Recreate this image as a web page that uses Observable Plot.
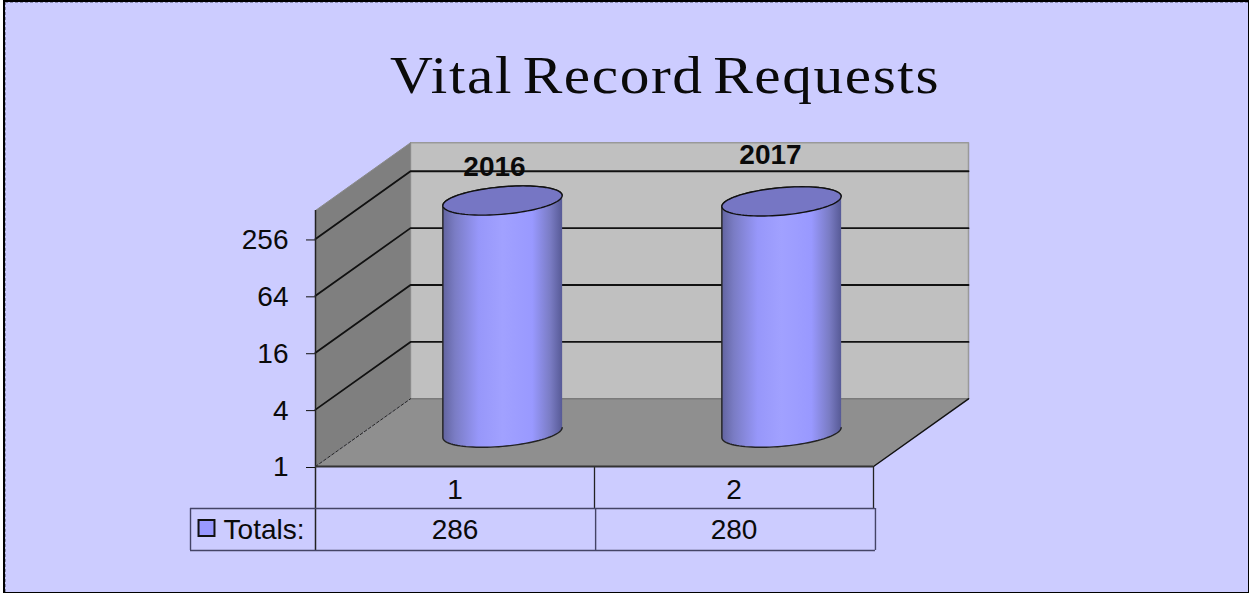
<!DOCTYPE html>
<html>
<head>
<meta charset="utf-8">
<script src="https://cdn.jsdelivr.net/npm/d3@7"></script>
<script src="https://cdn.jsdelivr.net/npm/@observablehq/plot@0.6"></script>
<style>
  html, body { margin: 0; padding: 0; background: #fff; }
  #page { position: relative; width: 1250px; height: 593px; overflow: hidden; }
  #frame { position: absolute; left: 3px; top: 0; width: 1246px; height: 593px; box-sizing: border-box;
    background: #ccccff; border: solid #000; border-width: 2px 1px 1px 2px; }
  #frame::after { content: ""; position: absolute; inset: 0; border: dashed #8a8ab0; border-width: 1px 0 0 1px; }
  h1 { position: relative; margin: 0; height: 130px; box-sizing: border-box; padding-top: 49px; padding-left: 390px;
    font: 400 53px/1 "Liberation Serif", serif; letter-spacing: 1.4px; word-spacing: -6px; color: #0a0a0a; white-space: nowrap; }
  h1 span { display: inline-block; transform: scaleX(1.12); transform-origin: 0 50%; }
  #chart { position: relative; }
  svg { display: block; overflow: visible; }
</style>
</head>
<body>
<div id="page">
  <div id="frame"></div>
  <h1><span>Vital Record Requests</span></h1>
  <div id="chart"></div>
</div>
<script>
const categories = [1, 2];
const years = ["2016", "2017"];
const totals = [286, 280];
const tickValues = [1, 4, 16, 64, 256];
const axisMax = 512;
const seriesName = "Totals:";

// Oblique projection of the chart's box: category, value, depth (0 front, 1 back)
const depthX = 0.3405, depthY = 1.19;
const P = (c, v, d = 0) => ({x: c + d * depthX, y: v * 4 ** (d * depthY)});
const maxC = categories.length;
const box = pts => pts.map(([c, v, d]) => P(c, v, d));
const below = levels => 4 ** -levels; // table rows hang below the axis on the same log scale

const backWall = box([[0, 1, 1], [maxC, 1, 1], [maxC, axisMax, 1], [0, axisMax, 1]]);
const leftWall = box([[0, 1, 0], [0, 1, 1], [0, axisMax, 1], [0, axisMax, 0]]);
const floor = box([[0, 1, 0], [maxC, 1, 0], [maxC, 1, 1], [0, 1, 1]]);
const gridlines = tickValues.slice(1).flatMap(v =>
  box([[0, v, 0], [0, v, 1], [maxC, v, 1]]).map(p => ({...p, v})));

// Cylinders
const radiusC = 0.2007, radiusD = 0.216;
const t0 = Math.atan2(radiusD * depthX, radiusC);
const ringPoint = (i, v, t) => P(i + 0.5 + radiusC * Math.cos(t), v, 0.5 + radiusD * Math.sin(t));
const arc = (i, v, from, to, n = 48) => d3.range(n + 1).map(k => ringPoint(i, v, from + (to - from) * k / n));
const bodies = totals.flatMap((v, i) => [
  ...arc(i, 1, t0, t0 - Math.PI),
  ...arc(i, v, t0 - Math.PI, t0 - 2 * Math.PI)
].map(p => ({...p, i})));
const tops = totals.flatMap((v, i) => arc(i, v, 0, 2 * Math.PI, 96).map(p => ({...p, i})));

const row1 = below(0.738), row2 = below(1.476);
const rowEdges2 = [0, 1.004, 2.007];
const tableLeft = -0.448;
const tickColor = "#111";

const gradient = () => {
  const defs = d3.create("svg:defs");
  const g = defs.append("linearGradient").attr("id", "cyl").attr("x1", 0).attr("x2", 1).attr("y1", 0).attr("y2", 0);
  [[0, "#62649f"], [0.1, "#7a7cc4"], [0.3, "#9797fa"], [0.5, "#a1a1ff"], [0.75, "#9999ff"], [0.9, "#7a7cc4"], [1, "#575a96"]]
    .forEach(([o, c]) => g.append("stop").attr("offset", o).attr("stop-color", c));
  return defs.node();
};

const plot = Plot.plot({
  width: 1250, height: 463,
  marginLeft: 315, marginRight: 377, marginTop: 80, marginBottom: 127,
  style: {background: "transparent", fontFamily: "'Liberation Sans', Arial, sans-serif", overflow: "visible"},
  x: {domain: [0, maxC], axis: null},
  y: {type: "log", base: 4, domain: [1, axisMax], axis: null},
  marks: [
    gradient,
    Plot.line(backWall.concat(backWall[0]), {x: "x", y: "y", fill: "#c0c0c0", stroke: "#999", strokeWidth: 1.5}),
    Plot.line(leftWall, {x: "x", y: "y", fill: "#7f7f7f", stroke: "none"}),
    Plot.line(floor, {x: "x", y: "y", fill: "#8f8f8f", stroke: "none"}),
    Plot.line(box([[0, 1, 1], [maxC, 1, 1]]), {x: "x", y: "y", stroke: "#7a7a7a", strokeWidth: 1.5}),
    Plot.line(box([[0, 1, 0], [0, 1, 1]]), {x: "x", y: "y", stroke: "#222", strokeWidth: 1, strokeDasharray: "3,2"}),
    Plot.line(box([[maxC, 1, 0], [maxC, 1, 1]]), {x: "x", y: "y", stroke: "#111", strokeWidth: 1.5}),
    Plot.line(gridlines, {x: "x", y: "y", z: "v", stroke: "#111", strokeWidth: 1.8}),
    Plot.line(box([[0, axisMax, 0], [0, axisMax, 1]]), {x: "x", y: "y", stroke: "#8a8a8a", strokeWidth: 1}),
    Plot.line(bodies, {x: "x", y: "y", z: "i", fill: "url(#cyl)", stroke: "#222", strokeWidth: 1.4}),
    Plot.line(tops, {x: "x", y: "y", z: "i", fill: "#7676c4", stroke: "#111", strokeWidth: 1.4}),
    Plot.text(years.slice(0, 1), {x: () => P(0.5, totals[0], 0.5).x, y: () => P(0.5, totals[0], 0.5).y, text: d => d, dx: -8, dy: -34, fontSize: 28, fontWeight: 700, fill: "#0a0a0a"}),
    Plot.text(years.slice(1), {x: () => P(1.5, totals[1], 0.5).x, y: () => P(1.5, totals[1], 0.5).y, text: d => d, dx: -11, dy: -46, fontSize: 28, fontWeight: 700, fill: "#0a0a0a"}),
    Plot.axisY({ticks: tickValues, tickFormat: d => String(d), label: null, tickSize: 9, tickPadding: 18, fontSize: 28, dy: 1, stroke: tickColor, fill: "#0a0a0a"}),
    // data table
    Plot.ruleX([0], {y1: row2, y2: axisMax, stroke: "#222", strokeWidth: 1.5}),
    Plot.ruleX([1, 2], {y1: row1, y2: 1, stroke: "#222", strokeWidth: 1.3}),
    Plot.ruleY([1], {x1: 0, x2: maxC, stroke: "#333", strokeWidth: 2}),
    Plot.ruleY([row1, row2], {x1: tableLeft, x2: rowEdges2[2], stroke: "#444466", strokeWidth: 1.4}),
    Plot.ruleX([tableLeft, ...rowEdges2.slice(1)], {y1: row2, y2: row1, stroke: "#444466", strokeWidth: 1.4}),
    Plot.text(categories, {x: (d, i) => i + 0.5, y: () => below(0.41), text: d => String(d), fontSize: 28, fill: "#0a0a0a"}),
    Plot.text(totals, {x: (d, i) => i + 0.5, y: () => below(1.125), text: d => String(d), fontSize: 28, fill: "#0a0a0a"}),
    Plot.text([seriesName], {x: () => 0, y: () => below(1.11), text: d => d, textAnchor: "end", dx: -11, fontSize: 28, fill: "#0a0a0a"}),
    Plot.dot([seriesName], {x: () => 0, y: () => below(1.08), symbol: "square", r: 9, dx: -109, fill: "#9999ff", stroke: "#111", strokeWidth: 2})
  ]
});
document.getElementById("chart").append(plot);
</script>
</body>
</html>
